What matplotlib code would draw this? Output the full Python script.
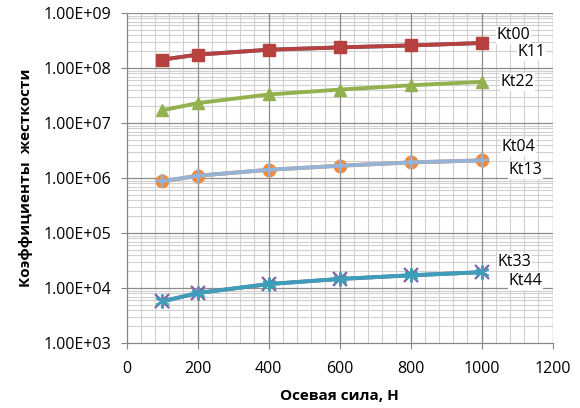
import numpy as np
import matplotlib
matplotlib.use("Agg")
import matplotlib.pyplot as plt
from matplotlib.ticker import MultipleLocator, LogLocator, FuncFormatter, NullFormatter

plt.rcParams['font.family'] = ['Open Sans', 'DejaVu Sans']

# --- data ---
force = [100, 200, 400, 600, 800, 1000]
kt00 = [1.42e8, 1.75e8, 2.15e8, 2.37e8, 2.57e8, 2.85e8]
k11 = [1.42e8, 1.75e8, 2.15e8, 2.37e8, 2.57e8, 2.85e8]
kt22 = [1.7e7, 2.3e7, 3.3e7, 4.05e7, 4.85e7, 5.6e7]
kt33 = [5.7e3, 8.1e3, 1.18e4, 1.46e4, 1.70e4, 1.94e4]
kt44 = [5.7e3, 8.1e3, 1.18e4, 1.46e4, 1.70e4, 1.94e4]
kt04 = [8.7e5, 1.1e6, 1.41e6, 1.67e6, 1.92e6, 2.09e6]
kt13 = [8.7e5, 1.1e6, 1.41e6, 1.67e6, 1.92e6, 2.09e6]

x_ticks = [0, 200, 400, 600, 800, 1000, 1200]
y_ticks = [1e3, 1e4, 1e5, 1e6, 1e7, 1e8, 1e9]

fig = plt.figure(figsize=(5.8, 4.08), dpi=100)
ax = fig.add_axes([0.2184, 0.1593, 0.9526 - 0.2184, 0.9681 - 0.1593])

lw = 2.8
# series in Excel order: (values, color, marker, label, label offset px)
series = [
    (k11, '#4F81BD', None, 'K11', (36, -9)),
    (kt00, '#B7413E', 's', 'Kt00', (15, 8)),
    (kt22, '#93B24F', '^', 'Kt22', (19, 0)),
    (kt33, '#8064A2', 'x', 'Kt33', (16, 10)),
    (kt44, '#3E9DB8', (6, 2, 0), 'Kt44', (27, -9)),
    (kt04, '#F08A3C', 'o', 'Kt04', (20, 13)),
    (kt13, '#95B3D7', (4, 2, 0), 'Kt13', (27, -10)),
]

for i, (vals, col, mk, lab, off) in enumerate(series):
    if mk == 'x' or isinstance(mk, tuple):
        ax.plot(force, vals, color=col, lw=lw, marker=mk, ms=10, mew=1.6,
                mec=col, zorder=3 + i, clip_on=False)
    else:
        ax.plot(force, vals, color=col, lw=lw, marker=mk, ms=9, mec=col,
                mfc=col, zorder=3 + i, clip_on=False)
    ax.annotate(lab, (force[-1], vals[-1]), xytext=off, textcoords='offset pixels',
                ha='left', va='center', fontsize=11.5, color='black', zorder=20,
                bbox=dict(boxstyle='square,pad=0.05', fc='white', ec='none'))

ax.set_yscale('log')
ax.set_xlim(0, 1200)
ax.set_ylim(1e3, 1e9)
ax.set_xticks(x_ticks)
ax.set_yticks(y_ticks)
ax.xaxis.set_minor_locator(MultipleLocator(40))
ax.yaxis.set_minor_locator(LogLocator(base=10, subs=np.arange(2, 10), numticks=20))
ax.yaxis.set_minor_formatter(NullFormatter())
ax.yaxis.set_major_formatter(FuncFormatter(lambda v, p: "%.2E" % v))

# light minor grid, darker major lines drawn on top of it
ax.grid(which='minor', color='#D0D0D0', lw=0.8)
ax.set_axisbelow(True)
for xv in x_ticks[1:]:
    ax.axvline(xv, color='#8C8C8C', lw=0.9, zorder=1)
for yv in y_ticks[1:]:
    ax.axhline(yv, color='#8C8C8C', lw=0.9, zorder=1)

for s in ['top', 'right']:
    ax.spines[s].set_visible(False)
for s in ['left', 'bottom']:
    ax.spines[s].set_color('#868686')
    ax.spines[s].set_linewidth(0.9)

ax.tick_params(which='major', direction='out', length=4.3, color='#868686',
               labelsize=11.5, labelcolor='black', pad=7)
ax.tick_params(which='minor', length=0)
ax.tick_params(axis='x', pad=9)

ax.set_xlabel('Осевая сила, Н', fontsize=11, fontweight='bold')
ax.set_ylabel('Коэффициенты  жесткости', fontsize=11, fontweight='bold')
ax.xaxis.set_label_coords(0.5, -0.139)
ax.yaxis.set_label_coords(-0.22, 0.5)

fig.savefig('out.png', dpi=100)
